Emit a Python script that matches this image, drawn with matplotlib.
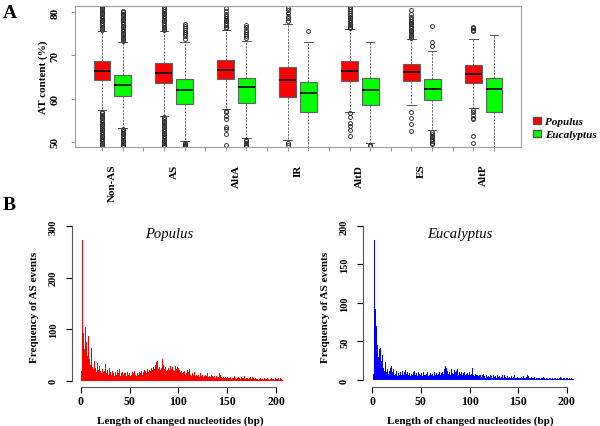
import numpy as np
import matplotlib
matplotlib.use("Agg")
import matplotlib.pyplot as plt
from matplotlib.patches import Patch

plt.rcParams['font.family'] = ['Liberation Serif', 'DejaVu Serif']
plt.rcParams['font.weight'] = 'bold'
plt.rcParams['axes.labelweight'] = 'bold'

groups = ["Non-AS", "AS", "AltA", "IR", "AltD", "ES", "AltP"]
species = ["Populus", "Eucalyptus"]
box_colors = ["#ff0000", "#00ff00"]

# whislo, q1, median, q3, whishi  (AT content %)
pop_stats = [(57.3, 64.3, 66.3, 68.8, 75.6),
             (56.0, 63.5, 65.9, 68.3, 75.6),
             (57.6, 64.5, 66.6, 69.0, 76.0),
             (50.3, 60.4, 64.2, 67.3, 77.4),
             (57.0, 64.0, 66.3, 68.7, 76.1),
             (58.4, 64.1, 66.1, 67.9, 73.7),
             (57.7, 63.6, 65.8, 67.7, 73.7)]
euc_stats = [(53.2, 60.6, 63.2, 65.4, 73.0),
             (50.1, 58.7, 62.1, 64.5, 73.0),
             (50.8, 59.0, 62.6, 64.7, 73.3),
             (47.0, 57.0, 61.2, 63.8, 73.1),
             (49.8, 58.6, 62.0, 64.7, 73.1),
             (52.8, 59.6, 62.2, 64.5, 71.0),
             (47.0, 57.0, 62.2, 64.7, 74.7)]

pop_fliers = [
    [75.9, 76.3, 76.7, 77.1, 77.5, 77.9, 78.3, 78.7, 79.1, 79.5, 79.9, 80.3, 80.7, 81.1, 81.4,
     57.0, 56.6, 56.2, 55.8, 55.4, 55.0, 54.6, 54.2, 53.8, 53.4, 53.0, 52.6, 52.2, 51.8, 51.4,
     51.0, 50.6, 50.2, 49.8, 49.4, 49.0],
    [75.9, 76.3, 76.7, 77.1, 77.5, 77.9, 78.3, 78.7, 79.1, 79.5, 79.9, 80.4, 80.8, 81.2,
     55.7, 55.3, 54.9, 54.5, 54.1, 53.7, 53.3, 52.9, 52.5, 52.1, 51.7, 51.3, 50.9, 50.5, 50.1,
     49.7, 49.3, 48.9],
    [76.3, 76.7, 77.1, 77.5, 77.9, 78.3, 78.7, 79.1, 79.6, 80.3, 81.0,
     57.2, 56.8, 56.0, 55.3, 53.4, 53.0, 51.7, 49.3],
    [78.0, 78.6, 79.2, 79.8, 80.5, 81.0, 49.6, 49.2],
    [76.4, 76.7, 77.0, 77.4, 77.8, 78.2, 78.6, 79.0, 79.4, 79.8, 80.3, 80.7, 81.2,
     56.6, 55.8, 54.4, 53.6, 52.6, 51.4],
    [74.0, 74.4, 74.8, 75.2, 75.6, 76.0, 76.4, 76.8, 77.2, 77.6, 78.0, 78.4, 79.0, 79.6, 80.5,
     56.8, 55.6, 54.1, 52.4],
    [75.7, 76.0, 76.3, 76.6, 57.3, 56.8, 56.2, 55.6, 55.2, 51.4, 49.6],
]
euc_fliers = [
    [73.3, 73.7, 74.1, 74.5, 74.9, 75.3, 75.7, 76.1, 76.5, 76.9, 77.3, 77.7, 78.1, 78.5, 78.9,
     79.3, 79.7, 80.1, 80.4,
     52.9, 52.5, 52.1, 51.7, 51.3, 50.9, 50.5, 50.1, 49.7, 49.3, 48.9],
    [73.9, 74.4, 74.9, 75.4, 75.9, 76.4, 76.9, 77.4, 49.8, 49.5, 49.2, 48.9],
    [74.0, 74.5, 75.0, 75.5, 76.0, 76.6, 77.1, 50.5, 50.1, 49.7, 49.3, 48.9],
    [75.7],
    [49.3, 49.0],
    [72.2, 73.0, 76.9, 52.2, 51.8, 51.4, 51.0, 50.6, 50.2, 49.8, 49.4],
    [],
]

# frequency of AS events per changed length (bp 1..207)
lengths = np.arange(1, 208)
pop_freq = [18, 272, 92, 62, 104, 75, 48, 86, 42, 30,
            64, 26, 22, 38, 24, 16, 34, 20, 28, 18,
            14, 22, 16, 18, 32, 14, 20, 12, 24, 16,
            12, 18, 14, 10, 16, 12, 20, 14, 12, 22,
            10, 14, 16, 12, 15, 14, 10, 16, 12, 14,
            10, 12, 16, 14, 18, 12, 10, 14, 12, 16,
            14, 18, 12, 16, 20, 18, 14, 22, 16, 20,
            18, 24, 20, 26, 22, 30, 36, 38, 28, 22,
            26, 20, 24, 43, 30, 22, 26, 18, 20, 24,
            20, 28, 22, 26, 20, 18, 28, 22, 26, 24,
            20, 16, 18, 14, 16, 18, 12, 14, 20, 16,
            22, 12, 10, 14, 12, 16, 10, 12, 18, 10,
            12, 8, 14, 10, 12, 8, 10, 12, 9, 14,
            8, 10, 7, 12, 9, 8, 10, 6, 9, 8,
            7, 14, 12, 8, 6, 7, 5, 8, 6, 7,
            5, 6, 8, 4, 6, 5, 10, 6, 4, 7,
            5, 8, 6, 4, 7, 5, 6, 9, 4, 5,
            6, 4, 5, 7, 3, 8, 5, 4, 6, 3,
            4, 2, 3, 5, 3, 4, 2, 5, 3, 4,
            5, 3, 2, 4, 6, 3, 4, 2, 5, 3,
            4, 3, 6, 2, 5, 3, 2]
euc_freq = [8, 182, 92, 70, 45, 30, 40, 42, 25, 33,
            15, 28, 12, 23, 10, 14, 8, 12, 16, 18,
            10, 14, 6, 8, 12, 5, 9, 6, 11, 7,
            12, 6, 10, 13, 8, 11, 6, 9, 5, 8,
            7, 10, 12, 6, 9, 5, 11, 7, 8, 6,
            9, 5, 10, 7, 6, 8, 11, 5, 7, 9,
            6, 8, 5, 10, 7, 9, 6, 8, 10, 7,
            9, 11, 8, 14, 18, 16, 12, 8, 10, 7,
            14, 9, 11, 8, 13, 10, 12, 14, 7, 10,
            8, 11, 7, 9, 10, 6, 8, 9, 7, 10,
            6, 8, 15, 7, 5, 8, 6, 7, 5, 6,
            7, 4, 6, 8, 5, 3, 6, 4, 7, 5,
            4, 6, 5, 3, 7, 4, 5, 3, 6, 4,
            5, 3, 4, 6, 3, 7, 4, 2, 5, 3,
            4, 3, 5, 2, 4, 6, 3, 2, 4, 3,
            2, 3, 4, 2, 3, 5, 2, 3, 4, 6,
            5, 3, 2, 4, 3, 2, 4, 1, 3, 2,
            3, 2, 1, 3, 2, 4, 2, 1, 3, 2,
            1, 2, 3, 1, 2, 1, 3, 2, 1, 2,
            3, 1, 2, 4, 2, 1, 3, 2, 1, 2,
            3, 1, 2, 1, 2, 1, 1]

W, H = 600, 427
fig = plt.figure(figsize=(W / 100, H / 100), dpi=100)


def px_axes(l, t, r, b):
    return fig.add_axes([l / W, 1 - b / H, (r - l) / W, (b - t) / H])


# ---- panel A: boxplots ----
ax = px_axes(75, 7, 521, 148)
stats, pos, cols = [], [], []
for i in range(len(groups)):
    for j, (st, fl) in enumerate([(pop_stats[i], pop_fliers[i]), (euc_stats[i], euc_fliers[i])]):
        lo, q1, med, q3, hi = st
        stats.append(dict(whislo=lo, q1=q1, med=med, q3=q3, whishi=hi, fliers=fl))
        pos.append(3 * i + 1 + j)
        cols.append(box_colors[j])

bp = ax.bxp(stats, positions=pos, widths=0.82, capwidths=0.41, patch_artist=True,
            boxprops=dict(edgecolor="#606060", linewidth=0.8),
            medianprops=dict(color="black", linewidth=1.2),
            whiskerprops=dict(color="#505050", linewidth=0.6, linestyle=(0, (2.5, 1.5))),
            capprops=dict(color="#505050", linewidth=0.7),
            flierprops=dict(marker="o", markersize=2.8, markerfacecolor="none",
                            markeredgecolor="#1a1a1a", markeredgewidth=0.6))
for patch, c in zip(bp["boxes"], cols):
    patch.set_facecolor(c)

ax.set_xlim(-0.31, 21.31)
ax.set_ylim(48.77, 81.46)
ax.set_yticks([50, 60, 70, 80])
ax.set_yticklabels(["50", "60", "70", "80"], rotation=90, va="center", fontsize=8)
ax.set_xticks(range(1, 21))
ax.set_xticklabels([])
ax.set_xticks([3 * i + 1.5 for i in range(len(groups))], minor=True)
ax.set_xticklabels(groups, minor=True, rotation=90, fontsize=8)
ax.tick_params(axis="x", which="minor", length=0, pad=12)
ax.tick_params(axis="both", which="major", length=3, color="#808080", width=0.6)
ax.tick_params(axis="y", pad=8)
for s in ax.spines.values():
    s.set_color("#a0a0a0")
    s.set_linewidth(0.8)
ax.set_ylabel("AT content (%)", fontsize=8, labelpad=2)

fig.legend(handles=[Patch(facecolor=box_colors[k], edgecolor="#555555", label=species[k])
                    for k in range(2)],
           loc="center left", bbox_to_anchor=(533 / W, 1 - 129 / H), frameon=False,
           prop=dict(family="Liberation Serif", weight="bold", style="italic", size=8),
           handlelength=0.7, handleheight=0.7, handletextpad=0.4, labelspacing=0.3,
           borderaxespad=0, borderpad=0)

fig.text(3 / W, 1 - 14 / H, "A", fontsize=14, fontweight="bold", va="center")
fig.text(3 / W, 1 - 206 / H, "B", fontsize=14, fontweight="bold", va="center")


# ---- panel B: histograms ----
def hist_panel(box, xlim, ylim, yticks, freq, color, title):
    a = px_axes(*box)
    a.bar(lengths, freq, width=1.0, color=color, linewidth=0)
    a.set_xlim(*xlim)
    a.set_ylim(*ylim)
    a.set_xticks([0, 50, 100, 150, 200])
    a.set_yticks(yticks)
    a.set_yticklabels([str(t) for t in yticks], rotation=90, va="center", fontsize=7.5)
    a.tick_params(axis="x", labelsize=8.5, length=4, width=0.8, pad=2)
    a.tick_params(axis="y", length=4, width=0.8, pad=6)
    a.spines["top"].set_visible(False)
    a.spines["right"].set_visible(False)
    a.spines["left"].set_bounds(0, yticks[-1])
    a.spines["bottom"].set_bounds(0, 200)
    a.spines["left"].set_color("#555555")
    a.spines["bottom"].set_color("#555555")
    a.set_xlabel("Length of changed nucleotides (bp)", fontsize=8, labelpad=6)
    a.set_ylabel("Frequency of AS events", fontsize=8, labelpad=7)
    a.text(0.45, 0.955, title, transform=a.transAxes, ha="center", va="center",
           fontsize=10.5, style="italic", fontweight="normal")
    return a


hist_panel((72, 227, 287.7, 388), (-9.2, 212), (-12.2, 300), [0, 100, 200, 300],
           pop_freq, "#ff0000", "Populus")
hist_panel((363, 227, 578.4, 388), (-9.6, 212), (-9.1, 200), [0, 50, 100, 150, 200],
           euc_freq, "#0000ff", "Eucalyptus")

fig.savefig("out.png", dpi=100)
